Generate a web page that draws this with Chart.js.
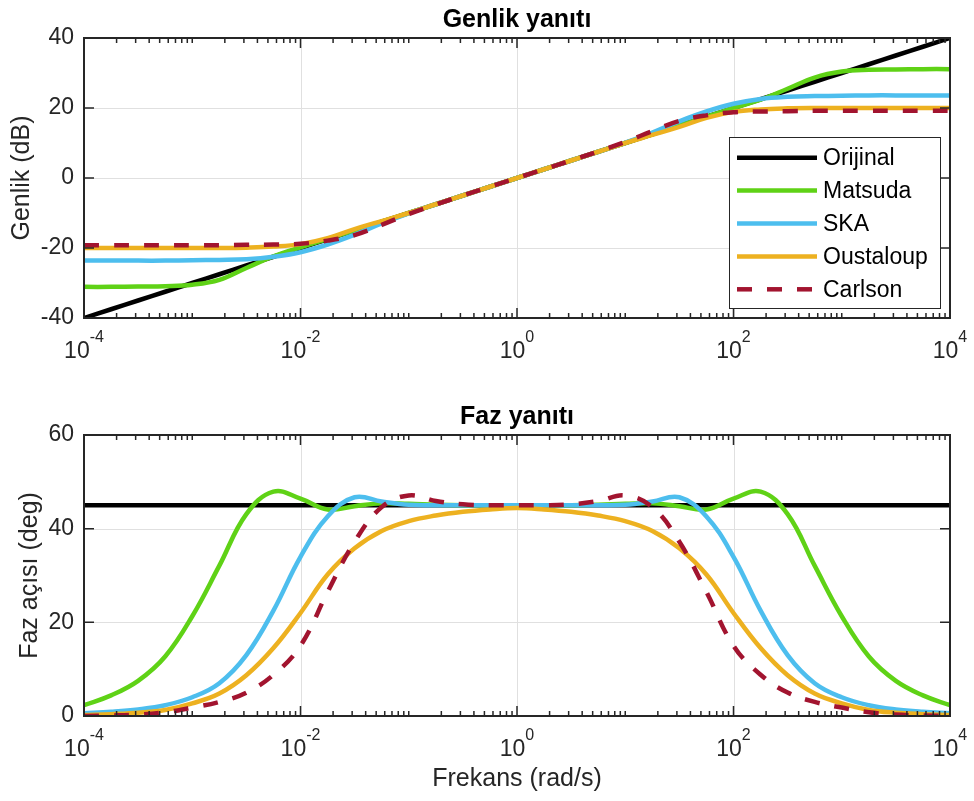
<!DOCTYPE html>
<html>
<head>
<meta charset="utf-8">
<script src="https://cdn.jsdelivr.net/npm/chart.js@4.4.1/dist/chart.umd.min.js"></script>
<style>
  html, body { margin: 0; padding: 0; background: #fff; }
  #wrap { position: relative; width: 974px; height: 801px; }
  canvas { position: absolute; left: 0; }
</style>
</head>
<body>
<div id="wrap">
  <canvas id="mag" width="974" height="400" style="top:0"></canvas>
  <canvas id="phase" width="974" height="401" style="top:400px"></canvas>
</div>
<script>
// frequencies, quarter-decade steps from 1e-4 to 1e4 rad/s
const freq = [0.0001, 0.000178, 0.000316, 0.000562, 0.001, 0.00178, 0.00316, 0.00562,
  0.01, 0.0178, 0.0316, 0.0562, 0.1, 0.178, 0.316, 0.562, 1, 1.78, 3.16, 5.62,
  10, 17.8, 31.6, 56.2, 100, 178, 316, 562, 1000, 1780, 3160, 5620, 10000];

const seriesNames = ["Orijinal", "Matsuda", "SKA", "Oustaloup", "Carlson"];
const seriesColors = ["#000000", "#5fd216", "#4dbeee", "#edb120", "#a2142f"];

// magnitude (dB)
const magOrijinal = [-40, -37.5, -35, -32.5, -30, -27.5, -25, -22.5, -20, -17.5, -15, -12.5, -10, -7.5, -5, -2.5,
  0, 2.5, 5, 7.5, 10, 12.5, 15, 17.5, 20, 22.5, 25, 27.5, 30, 32.5, 35, 37.5, 40];
const magMatsuda = [-31.1, -31.1, -31.0, -30.9, -30.5, -29.1, -25.7, -22.4, -19.8, -17.4, -15.0, -12.5, -10.0, -7.5, -5.0, -2.5,
  0, 2.5, 5.0, 7.5, 10.0, 12.5, 15.0, 17.5, 20.0, 22.4, 25.5, 28.7, 30.4, 30.9, 31.0, 31.1, 31.1];
const magSKA = [-23.6, -23.6, -23.6, -23.6, -23.5, -23.4, -23.2, -22.5, -21.2, -19.0, -16.2, -13.0, -10.1, -7.5, -5.0, -2.5,
  0, 2.5, 5.0, 7.5, 10.1, 13.0, 16.2, 19.0, 21.2, 22.6, 23.2, 23.4, 23.5, 23.6, 23.6, 23.6, 23.6];
const magOustaloup = [-20.0, -20.0, -20.0, -20.0, -20.0, -20.0, -19.9, -19.6, -18.9, -17.2, -14.6, -12.3, -10.0, -7.5, -5.0, -2.5,
  0, 2.5, 5.0, 7.5, 10.0, 12.3, 14.6, 17.2, 18.9, 19.6, 19.9, 20.0, 20.0, 20.0, 20.0, 20.0, 20.0];
const magCarlson = [-19.2, -19.2, -19.2, -19.2, -19.2, -19.2, -19.1, -19.0, -18.8, -17.9, -16.3, -13.4, -10.3, -7.6, -5.0, -2.5,
  0, 2.5, 5.0, 7.6, 10.3, 13.4, 16.3, 17.9, 18.8, 19.0, 19.1, 19.2, 19.2, 19.2, 19.2, 19.2, 19.2];

// phase (deg)
const phOrijinal = [45, 45, 45, 45, 45, 45, 45, 45, 45, 45, 45, 45, 45, 45, 45, 45,
  45, 45, 45, 45, 45, 45, 45, 45, 45, 45, 45, 45, 45, 45, 45, 45, 45];
const phMatsuda = [2.3, 4.4, 7.5, 12.7, 21.3, 32.1, 43.1, 47.9, 46.4, 44.1, 44.8, 45.4, 45.3, 45.1, 45.0, 45.0,
  45.0, 45.0, 45.0, 45.1, 45.3, 45.4, 44.8, 44.1, 46.4, 47.9, 43.1, 32.1, 21.3, 12.7, 7.5, 4.4, 2.3];
const phSKA = [0.6, 0.9, 1.4, 2.3, 4.0, 7.0, 13.0, 22.5, 34.0, 42.6, 46.7, 45.8, 45.1, 45.0, 45.0, 45.0,
  45.0, 45.0, 45.0, 45.0, 45.1, 45.8, 46.7, 42.6, 34.0, 22.5, 13.0, 7.0, 4.0, 2.3, 1.4, 0.9, 0.6];
const phOustaloup = [0.2, 0.4, 0.7, 1.3, 2.7, 4.8, 8.7, 14.5, 22.0, 30.2, 35.8, 39.5, 41.6, 42.8, 43.6, 44.1,
  44.4, 44.1, 43.6, 42.8, 41.6, 39.5, 35.8, 30.2, 22.0, 14.5, 8.7, 4.8, 2.7, 1.3, 0.7, 0.4, 0.2];
const phCarlson = [0.0, 0.1, 0.3, 0.8, 1.8, 3.0, 5.0, 8.8, 15.0, 26.5, 37.2, 44.6, 47.1, 45.9, 45.2, 45.0,
  45.0, 45.0, 45.2, 45.9, 47.1, 44.6, 37.2, 26.5, 15.0, 8.8, 5.0, 3.0, 1.8, 0.8, 0.3, 0.1, 0.0];

const xMajor = [1e-4, 1e-2, 1, 1e2, 1e4];
const xMajorExp = ["-4", "-2", "0", "2", "4"];

const FONT = "'Liberation Sans', Arial, Helvetica, sans-serif";
const AXIS = "#262626";

function makeDatasets(series) {
  return series.map((vals, i) => ({
    label: seriesNames[i],
    data: freq.map((f, j) => ({ x: f, y: vals[j] })),
    borderColor: seriesColors[i],
    borderWidth: 4.5,
    borderDash: i === 4 ? [15, 15] : [],
    pointRadius: 0,
    fill: false,
    tension: 0.4,
    order: 5 - i,
  }));
}

const frame = {
  id: "frame",
  beforeDatasetsDraw(chart, args, opts) {
    const { ctx, chartArea: a, scales: { x, y } } = chart;
    ctx.save();
    ctx.strokeStyle = "#e0e0e0";
    ctx.lineWidth = 1;
    ctx.beginPath();
    xMajor.forEach((v) => {
      const px = Math.round(x.getPixelForValue(v)) + 0.5;
      ctx.moveTo(px, a.top); ctx.lineTo(px, a.bottom);
    });
    y.ticks.forEach((t) => {
      const py = Math.round(y.getPixelForValue(t.value)) + 0.5;
      ctx.moveTo(a.left, py); ctx.lineTo(a.right, py);
    });
    ctx.stroke();
    ctx.restore();
  },
  afterDatasetsDraw(chart, args, opts) {
    const { ctx, chartArea: a, scales: { x, y } } = chart;
    ctx.save();
    ctx.strokeStyle = AXIS;
    ctx.lineWidth = 1.5;
    ctx.beginPath();
    // x ticks (log minor + major)
    for (let k = -4; k <= 4; k++) {
      for (let m = 1; m <= 9; m++) {
        const v = m * Math.pow(10, k);
        if (v > 1e4 * 1.0001) break;
        const major = m === 1 && k % 2 === 0;
        const len = major ? 10 : 5;
        const px = x.getPixelForValue(v);
        ctx.moveTo(px, a.bottom); ctx.lineTo(px, a.bottom - len);
        ctx.moveTo(px, a.top); ctx.lineTo(px, a.top + len);
      }
    }
    y.ticks.forEach((t) => {
      const py = y.getPixelForValue(t.value);
      ctx.moveTo(a.left, py); ctx.lineTo(a.left + 10, py);
      ctx.moveTo(a.right, py); ctx.lineTo(a.right - 10, py);
    });
    ctx.stroke();
    // box
    ctx.lineWidth = 2;
    ctx.strokeRect(a.left, a.top, a.right - a.left, a.bottom - a.top);

    // x tick labels with superscript
    ctx.fillStyle = AXIS;
    ctx.textBaseline = "alphabetic";
    ctx.textAlign = "left";
    xMajor.forEach((v, i) => {
      const px = x.getPixelForValue(v);
      ctx.font = "23px " + FONT;
      const w1 = ctx.measureText("10").width;
      ctx.font = "16px " + FONT;
      const w2 = ctx.measureText(xMajorExp[i]).width;
      const x0 = px - (w1 + w2) / 2;
      const base = a.bottom + 40;
      ctx.font = "23px " + FONT;
      ctx.fillText("10", x0, base);
      ctx.font = "16px " + FONT;
      ctx.fillText(xMajorExp[i], x0 + w1, base - 16);
    });

    // title
    ctx.fillStyle = "#000";
    ctx.textAlign = "center";
    ctx.font = "bold 25px " + FONT;
    ctx.fillText(opts.title, (a.left + a.right) / 2, a.top - 11);

    // y title
    ctx.fillStyle = AXIS;
    ctx.font = "25px " + FONT;
    ctx.save();
    ctx.translate(opts.yTitleX, (a.top + a.bottom) / 2);
    ctx.rotate(-Math.PI / 2);
    ctx.textBaseline = "middle";
    ctx.fillText(opts.yTitle, 0, 0);
    ctx.restore();

    // x title
    if (opts.xTitle) {
      ctx.textBaseline = "middle";
      ctx.fillText(opts.xTitle, (a.left + a.right) / 2, a.bottom + 63);
    }

    // legend box
    if (opts.legend) {
      const L = { x: 729, y: 137, w: 211, h: 171 };
      ctx.fillStyle = "#fff";
      ctx.fillRect(L.x, L.y, L.w, L.h);
      ctx.strokeStyle = AXIS;
      ctx.lineWidth = 1;
      ctx.strokeRect(L.x + 0.5, L.y + 0.5, L.w, L.h);
      chart.data.datasets.forEach((ds, i) => {
        const cy = L.y + 20.7 + i * 32.9;
        ctx.strokeStyle = ds.borderColor;
        ctx.lineWidth = 4.5;
        ctx.setLineDash(ds.borderDash);
        ctx.beginPath();
        ctx.moveTo(L.x + 8, cy); ctx.lineTo(L.x + 88, cy);
        ctx.stroke();
        ctx.setLineDash([]);
        ctx.fillStyle = "#000";
        ctx.font = "23px " + FONT;
        ctx.textAlign = "left";
        ctx.textBaseline = "middle";
        ctx.fillText(ds.label, L.x + 94, cy + 1);
      });
    }
    ctx.restore();
  },
};

function makeChart(id, series, yMin, yMax, padTop, axisH, plug) {
  return new Chart(document.getElementById(id).getContext("2d"), {
    type: "line",
    data: { datasets: makeDatasets(series) },
    options: {
      responsive: false,
      animation: false,
      layout: { padding: { top: padTop, right: 24, left: 0, bottom: 0 } },
      plugins: { legend: { display: false }, tooltip: { enabled: false }, frame: plug },
      scales: {
        x: {
          type: "logarithmic",
          min: 1e-4,
          max: 1e4,
          ticks: { display: false },
          grid: { display: false, drawTicks: false },
          border: { display: false },
          afterFit: (s) => { s.height = axisH; },
        },
        y: {
          min: yMin,
          max: yMax,
          ticks: { stepSize: 20, padding: 10, color: AXIS, font: { size: 23, family: FONT } },
          grid: { display: false, drawTicks: false },
          border: { display: false },
          afterFit: (s) => { s.width = 84; },
        },
      },
    },
    plugins: [frame],
  });
}

makeChart("mag", [magOrijinal, magMatsuda, magSKA, magOustaloup, magCarlson], -40, 40, 38, 82,
  { title: "Genlik yanıtı", yTitle: "Genlik (dB)", yTitleX: 22, legend: true });
makeChart("phase", [phOrijinal, phMatsuda, phSKA, phOustaloup, phCarlson], 0, 60, 35, 85,
  { title: "Faz yanıtı", yTitle: "Faz açısı (deg)", yTitleX: 30, xTitle: "Frekans (rad/s)" });
</script>
</body>
</html>
